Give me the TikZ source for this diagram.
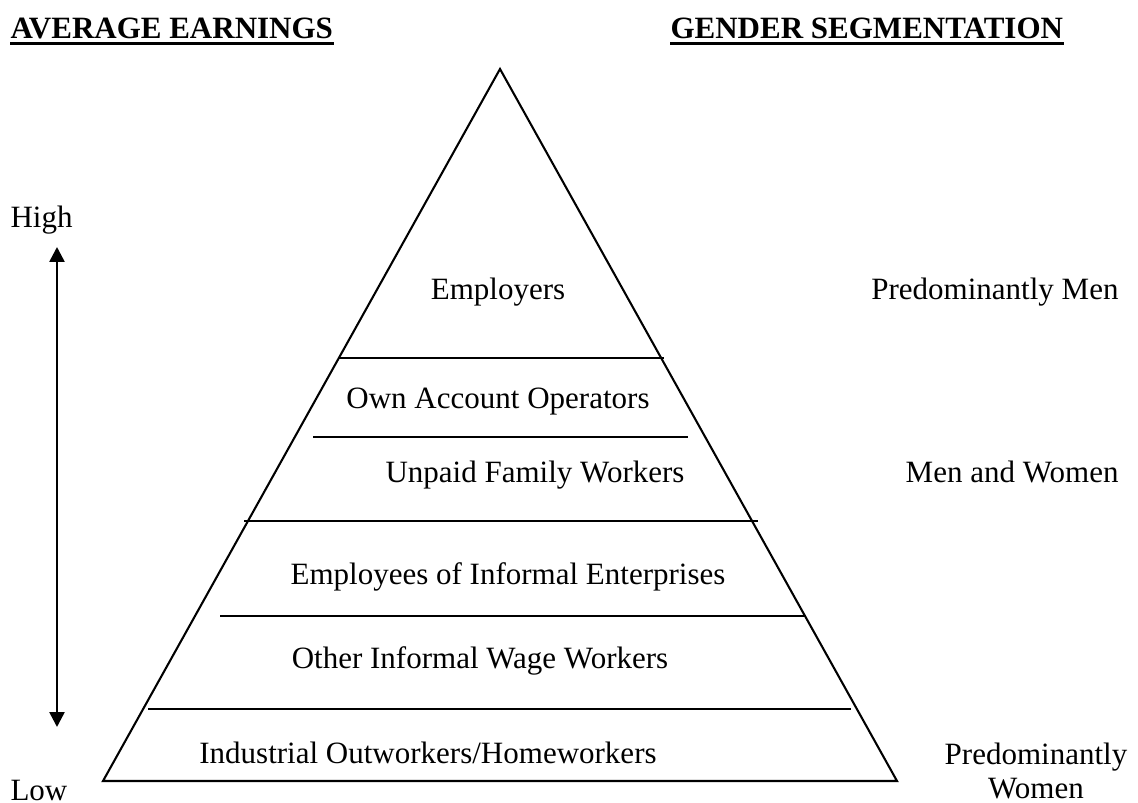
\documentclass[tikz,border=0pt]{standalone}
\usepackage{fontspec}
\setmainfont{Liberation Serif}
\usepackage{tikz}
\usetikzlibrary{arrows.meta,positioning}
\definecolor{ink}{HTML}{000000}
\tikzset{
  txt/.style={inner sep=0pt, font=\fontsize{12}{13.4}\selectfont, text=ink},
  head/.style={txt, font=\fontsize{12}{13.4}\selectfont\bfseries},
  edge/.style={draw=ink, line width=0.8pt},
  ul/.style={draw=ink, line width=1.2pt},
  earnarrow/.style={draw=ink, line width=1pt,
                {Triangle[length=5.8pt,width=5.8pt]}-{Triangle[length=5.8pt,width=5.8pt]}}
}

\begin{document}
\begin{tikzpicture}[x=0.387pt,y=-0.387pt]
  \useasboundingbox (0,0) rectangle (1138,803);

  % headings
  \node[head, anchor=base west] (avg) at (10,39) {AVERAGE EARNINGS};
  \node[head, anchor=base west] (gen) at (670,39) {GENDER SEGMENTATION};
  \draw[ul] ([yshift=-1.7pt]avg.base west) -- ([yshift=-1.7pt]avg.base east);
  \draw[ul] ([yshift=-1.7pt]gen.base west) -- ([yshift=-1.7pt]gen.base east);

  % earnings scale
  \node[txt, anchor=base west] (high) at (10,228) {High};
  \node[txt, anchor=base west] (low) at (10,800) {Low};
  \coordinate (top) at (57,247);
  \coordinate (bot) at (57,727);
  \draw[earnarrow] (top) -- (bot);

  % pyramid and its layers
  \coordinate (apex) at (500,69);
  \coordinate (bl) at (103,781);
  \coordinate (br) at (897,781);
  \draw[edge] (bl) -- (apex) -- (br) -- cycle;
  \foreach \y/\l/\r in {358/338/664, 437/313/688, 521/244/758, 616/220/806, 709/148/851}
    \draw[edge] (\l,\y) -- (\r,\y);

  \node[txt, anchor=base] (emp) at (498,300) {Employers};
  \node[txt, anchor=base] (own) at (498,409) {Own Account Operators};
  \node[txt, anchor=base] (unp) at (535,483) {Unpaid Family Workers};
  \node[txt, anchor=base] (inf) at (508,585) {Employees of Informal Enterprises};
  \node[txt, anchor=base] (wag) at (480,668) {Other Informal Wage Workers};
  \node[txt, anchor=base] (hom) at (428,763) {Industrial Outworkers/Homeworkers};

  % gender side
  \node[txt, anchor=base east] (men) at (1119,300) {Predominantly Men};
  \node[txt, anchor=base east] (mw) at (1119,483) {Men and Women};
  \node[txt, anchor=north, align=center] (wom) at (1036,742) {Predominantly\\Women};
\end{tikzpicture}
\end{document}
